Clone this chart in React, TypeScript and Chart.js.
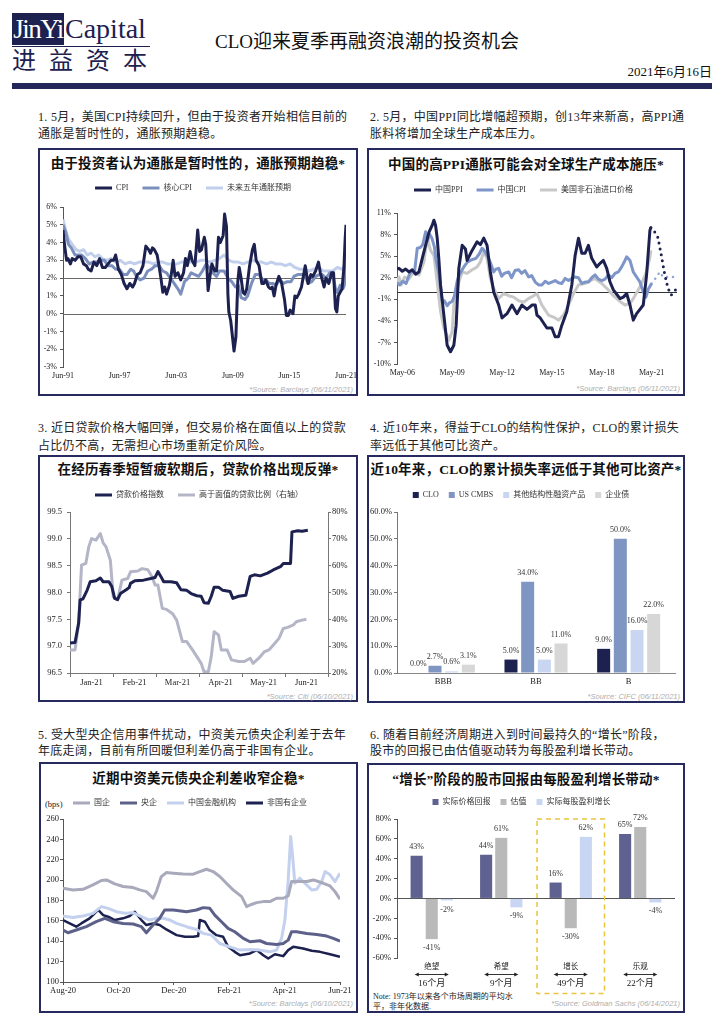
import React, { useEffect, useRef } from 'react';
import { Chart, registerables } from 'chart.js';

Chart.register(...registerables);

const SERIF = "'Liberation Serif', 'Noto Sans CJK SC', serif";
const SOURCE_FONT = "'Liberation Sans', 'Noto Sans CJK SC', sans-serif";
const NAVY = '#1d2150';
const FRAME = '#262a5e';

Chart.defaults.font.family = SERIF;
Chart.defaults.color = '#222';

// ---------------- Chart 1: US CPI ----------------
const c1TickValues = [1991.42, 1997.42, 2003.42, 2009.42, 2015.42, 2021.42];
const c1TickLabels = ['Jun-91', 'Jun-97', 'Jun-03', 'Jun-09', 'Jun-15', 'Jun-21'];
const usCpi = [
  [1991.42, 4.7], [1991.6, 3.8], [1991.8, 3.0], [1991.95, 3.1], [1992.2, 2.8], [1992.4, 3.1], [1992.7, 3.0],
  [1993.0, 3.2], [1993.3, 3.2], [1993.6, 2.8], [1993.9, 2.7], [1994.1, 2.5], [1994.4, 2.4], [1994.7, 2.9],
  [1995.0, 2.7], [1995.3, 3.1], [1995.6, 2.6], [1995.9, 2.6], [1996.2, 2.8], [1996.5, 3.0], [1996.8, 3.0],
  [1997.0, 3.3], [1997.3, 2.5], [1997.6, 2.2], [1997.9, 1.7], [1998.2, 1.4], [1998.5, 1.7], [1998.8, 1.5],
  [1999.0, 1.7], [1999.3, 2.2], [1999.6, 2.3], [1999.9, 2.7], [2000.2, 3.8], [2000.5, 3.6], [2000.7, 3.4],
  [2000.9, 3.7], [2001.1, 3.6], [2001.4, 3.3], [2001.6, 2.7], [2001.8, 2.0], [2002.0, 1.2], [2002.2, 1.5],
  [2002.4, 1.1], [2002.7, 1.6], [2002.9, 2.2], [2003.1, 3.0], [2003.3, 2.1], [2003.6, 2.3], [2003.9, 1.9],
  [2004.2, 2.3], [2004.4, 3.1], [2004.6, 2.7], [2004.9, 3.5], [2005.1, 3.0], [2005.4, 2.7], [2005.7, 4.7],
  [2005.9, 3.5], [2006.1, 3.6], [2006.4, 4.3], [2006.55, 3.9], [2006.8, 1.3], [2007.0, 2.1], [2007.2, 2.8],
  [2007.5, 2.4], [2007.7, 2.4], [2007.9, 4.3], [2008.1, 4.0], [2008.4, 4.4], [2008.55, 5.6], [2008.75, 4.9],
  [2008.9, 1.1], [2009.0, 0.1], [2009.2, -0.4], [2009.55, -2.1], [2009.75, -1.3], [2009.95, 1.8], [2010.1, 2.6],
  [2010.3, 2.0], [2010.5, 1.2], [2010.7, 1.1], [2010.9, 1.4], [2011.2, 2.7], [2011.5, 3.6], [2011.7, 3.9],
  [2011.9, 3.0], [2012.2, 2.7], [2012.5, 1.7], [2012.7, 1.7], [2012.9, 1.9], [2013.2, 1.5], [2013.4, 1.4],
  [2013.6, 1.5], [2013.8, 1.0], [2014.0, 1.6], [2014.3, 2.1], [2014.6, 1.7], [2014.9, 0.8], [2015.1, -0.1],
  [2015.3, -0.1], [2015.5, 0.2], [2015.8, 0.0], [2016.0, 1.0], [2016.2, 0.9], [2016.4, 1.1], [2016.7, 1.5],
  [2016.9, 2.1], [2017.1, 2.7], [2017.4, 1.7], [2017.7, 2.2], [2017.9, 2.1], [2018.2, 2.4], [2018.5, 2.9],
  [2018.7, 2.3], [2018.9, 1.9], [2019.1, 1.5], [2019.3, 2.0], [2019.6, 1.7], [2019.9, 2.3], [2020.1, 2.3],
  [2020.3, 0.3], [2020.45, 0.1], [2020.6, 1.0], [2020.8, 1.2], [2021.0, 1.4], [2021.2, 2.6], [2021.33, 4.2],
  [2021.42, 5.0],
];
const usCoreCpi = [
  [1991.42, 5.0], [1991.7, 4.6], [1992.0, 3.9], [1992.3, 3.7], [1992.7, 3.3], [1993.0, 3.3], [1993.4, 3.3],
  [1993.8, 3.1], [1994.2, 2.8], [1994.6, 2.9], [1995.0, 2.9], [1995.4, 3.0], [1995.8, 3.0], [1996.2, 2.7],
  [1996.6, 2.7], [1997.0, 2.5], [1997.4, 2.5], [1997.8, 2.2], [1998.2, 2.2], [1998.6, 2.5], [1998.9, 2.4],
  [1999.2, 2.1], [1999.6, 1.9], [2000.0, 2.0], [2000.4, 2.4], [2000.8, 2.5], [2001.2, 2.7], [2001.6, 2.7],
  [2002.0, 2.4], [2002.4, 2.3], [2002.8, 2.0], [2003.2, 1.7], [2003.6, 1.4], [2003.9, 1.1], [2004.3, 1.8],
  [2004.7, 2.0], [2005.0, 2.3], [2005.4, 2.2], [2005.8, 2.1], [2006.2, 2.4], [2006.6, 2.8], [2006.9, 2.6],
  [2007.3, 2.3], [2007.7, 2.1], [2008.0, 2.4], [2008.5, 2.4], [2008.9, 2.0], [2009.3, 1.8], [2009.7, 1.5],
  [2010.0, 1.6], [2010.3, 0.9], [2010.7, 0.8], [2011.0, 1.0], [2011.4, 1.7], [2011.8, 2.2], [2012.2, 2.2],
  [2012.6, 1.9], [2012.9, 1.9], [2013.3, 1.7], [2013.7, 1.7], [2014.0, 1.6], [2014.4, 1.9], [2014.8, 1.7],
  [2015.2, 1.8], [2015.6, 1.8], [2015.9, 2.1], [2016.3, 2.2], [2016.7, 2.2], [2017.0, 2.2], [2017.4, 1.7],
  [2017.8, 1.8], [2018.2, 2.1], [2018.6, 2.2], [2018.9, 2.2], [2019.3, 2.0], [2019.7, 2.3], [2020.0, 2.3],
  [2020.3, 1.4], [2020.5, 1.2], [2020.8, 1.6], [2021.1, 1.4], [2021.25, 1.6], [2021.42, 3.8],
];
const usInflExp5y = [
  [1991.42, 5.3], [1991.7, 4.7], [1992.0, 4.2], [1992.4, 3.9], [1992.8, 3.6], [1993.2, 3.5], [1993.6, 3.6],
  [1994.0, 3.3], [1994.4, 3.4], [1994.8, 3.2], [1995.2, 3.3], [1995.6, 3.1], [1996.0, 3.0], [1996.5, 3.1],
  [1997.0, 2.9], [1997.5, 3.0], [1998.0, 2.8], [1998.5, 2.9], [1999.0, 2.8], [1999.5, 2.9], [2000.0, 2.9],
  [2000.5, 2.9], [2001.0, 2.8], [2001.5, 2.9], [2002.0, 2.9], [2002.5, 2.8], [2003.0, 2.8], [2003.5, 2.8],
  [2004.0, 2.9], [2004.5, 2.9], [2005.0, 2.9], [2005.5, 2.9], [2006.0, 3.0], [2006.5, 3.0], [2007.0, 2.9],
  [2007.5, 3.0], [2008.0, 3.1], [2008.5, 3.3], [2009.0, 3.0], [2009.5, 2.9], [2010.0, 2.9], [2010.5, 2.8],
  [2011.0, 2.9], [2011.5, 3.0], [2012.0, 2.9], [2012.5, 2.9], [2013.0, 2.8], [2013.5, 2.9], [2014.0, 2.8],
  [2014.5, 2.8], [2015.0, 2.7], [2015.5, 2.8], [2016.0, 2.6], [2016.5, 2.5], [2017.0, 2.5], [2017.5, 2.4],
  [2018.0, 2.5], [2018.5, 2.6], [2019.0, 2.4], [2019.5, 2.4], [2020.0, 2.4], [2020.5, 2.6], [2021.0, 2.5],
  [2021.42, 2.8],
];

// ---------------- Chart 2: China PPI ----------------
const c2TickValues = [2006.37, 2009.37, 2012.37, 2015.37, 2018.37, 2021.37];
const c2TickLabels = ['May-06', 'May-09', 'May-12', 'May-15', 'May-18', 'May-21'];
const cnPpi = [
  [2006.05, 3.2], [2006.17, 3.3], [2006.37, 2.9], [2006.57, 3.2], [2006.77, 2.8], [2006.97, 3.1], [2007.17, 2.5],
  [2007.37, 2.8], [2007.57, 4.7], [2007.77, 6.5], [2007.97, 8.3], [2008.17, 9.3], [2008.27, 10.0], [2008.37, 9.3],
  [2008.47, 7.5], [2008.57, 4.5], [2008.67, 1.0], [2008.87, -3.2], [2009.07, -7.4], [2009.27, -8.3], [2009.47, -7.4],
  [2009.61, -4.6], [2009.77, 3.3], [2009.97, 6.5], [2010.17, 6.0], [2010.27, 4.4], [2010.57, 5.8], [2010.87, 7.0],
  [2011.07, 6.6], [2011.27, 7.5], [2011.47, 6.5], [2011.67, 2.8], [2011.87, 0.0], [2012.17, -1.8], [2012.37, -3.6],
  [2012.67, -3.0], [2012.97, -1.8], [2013.27, -3.0], [2013.57, -1.8], [2013.87, -2.4], [2014.17, -1.8], [2014.37, -1.8],
  [2014.47, -3.2], [2014.67, -3.6], [2015.07, -5.0], [2015.37, -5.0], [2015.57, -6.2], [2015.77, -6.2], [2015.97, -4.6],
  [2016.27, -2.7], [2016.57, 1.0], [2016.77, 5.1], [2016.97, 7.5], [2017.17, 5.4], [2017.37, 5.4], [2017.57, 6.5],
  [2017.77, 4.7], [2018.07, 3.5], [2018.27, 4.0], [2018.47, 4.4], [2018.67, 3.3], [2018.87, 1.4], [2019.07, 0.3],
  [2019.27, -0.3], [2019.47, -0.9], [2019.67, -0.7], [2019.87, -0.2], [2020.07, -1.8], [2020.27, -3.9], [2020.47, -3.0],
  [2020.67, -2.4], [2020.87, -1.8], [2021.07, 2.4], [2021.27, 8.6], [2021.33, 9.0],
];
const cnCpi = [
  [2006.05, 1.3], [2006.2, 1.0], [2006.4, 1.5], [2006.6, 1.2], [2006.8, 2.5], [2006.97, 3.0], [2007.1, 2.7],
  [2007.27, 6.1], [2007.45, 6.2], [2007.6, 6.6], [2007.77, 8.4], [2007.9, 7.2], [2008.0, 8.1], [2008.15, 7.5],
  [2008.3, 6.3], [2008.4, 4.5], [2008.57, 2.5], [2008.77, -1.3], [2008.9, -1.2], [2009.07, -1.9], [2009.2, -1.5],
  [2009.37, -1.3], [2009.5, -0.6], [2009.67, 1.5], [2009.8, 2.4], [2010.07, 3.5], [2010.3, 4.2], [2010.55, 4.5],
  [2010.8, 4.7], [2011.0, 5.3], [2011.17, 6.1], [2011.3, 5.8], [2011.5, 5.0], [2011.67, 4.1], [2011.87, 2.8],
  [2012.0, 3.2], [2012.17, 3.3], [2012.35, 2.2], [2012.5, 2.6], [2012.77, 2.8], [2012.95, 2.0], [2013.15, 3.0],
  [2013.37, 3.1], [2013.55, 2.6], [2013.75, 3.0], [2013.97, 2.1], [2014.15, 2.3], [2014.37, 1.4], [2014.57, 1.0],
  [2014.77, 1.0], [2014.97, 1.5], [2015.17, 1.2], [2015.37, 1.4], [2015.57, 1.6], [2015.77, 1.3], [2015.97, 1.2],
  [2016.17, 1.9], [2016.37, 1.6], [2016.57, 1.9], [2016.77, 2.1], [2016.97, 2.0], [2017.17, 1.2], [2017.37, 1.4],
  [2017.57, 1.4], [2017.77, 2.0], [2017.97, 2.4], [2018.17, 1.8], [2018.37, 1.6], [2018.57, 1.8], [2018.77, 2.4],
  [2018.97, 2.0], [2019.17, 2.6], [2019.37, 2.8], [2019.57, 3.5], [2019.77, 4.4], [2019.87, 4.9], [2020.07, 4.4],
  [2020.27, 2.8], [2020.47, 2.1], [2020.67, 1.4], [2020.87, 0.0], [2021.03, -0.7], [2021.17, 0.4], [2021.37, 1.2],
];
const usNonOilImport = [
  [2006.05, 1.4], [2006.17, 2.1], [2006.3, 1.0], [2006.5, 2.1], [2006.75, 1.8], [2007.07, 2.8], [2007.37, 2.4],
  [2007.67, 4.2], [2007.87, 7.5], [2008.07, 5.8], [2008.27, 5.1], [2008.47, 1.4], [2008.67, -2.7], [2008.87, -5.0],
  [2009.17, -6.7], [2009.37, -5.5], [2009.47, -1.8], [2009.77, 1.4], [2009.97, 2.8], [2010.27, 2.6], [2010.57, 3.1],
  [2010.87, 3.5], [2011.07, 4.2], [2011.27, 5.6], [2011.47, 4.7], [2011.67, 1.9], [2011.87, 0.5], [2012.17, -0.9],
  [2012.47, -0.2], [2012.77, -0.5], [2013.07, -0.7], [2013.37, -1.2], [2013.67, -1.4], [2013.97, -0.9], [2014.27, -0.5],
  [2014.47, -0.2], [2014.77, -1.8], [2015.17, -3.2], [2015.57, -3.6], [2015.77, -3.9], [2016.07, -3.2], [2016.37, -1.8],
  [2016.67, -0.2], [2016.97, 1.0], [2017.37, 1.2], [2017.77, 1.7], [2017.97, 1.9], [2018.37, 1.2], [2018.77, 0.3],
  [2019.07, -0.5], [2019.47, -1.3], [2019.77, -1.8], [2020.07, -1.6], [2020.27, -0.9], [2020.57, 0.3], [2020.77, 1.2],
  [2021.07, 2.8], [2021.27, 4.9], [2021.33, 5.8],
];
const cnPpiForecast = [
  [2021.33, 9.0], [2021.55, 8.4], [2021.75, 7.6], [2021.95, 5.2], [2022.15, 2.6], [2022.35, 0.6], [2022.55, -0.4], [2022.85, 0.4],
];
const cnCpiForecast = [
  [2021.37, 1.2], [2021.6, 1.9], [2021.87, 2.8], [2022.07, 2.1], [2022.37, 2.1], [2022.67, 2.1],
];

// ---------------- Chart 3: loan prices (x = days since 1 Jan 2021) ----------------
const c3Months = ['Jan-21', 'Feb-21', 'Mar-21', 'Apr-21', 'May-21', 'Jun-21'];
const loanPriceIndex = [
  [0, 97.06], [3.5, 97.07], [6, 97.43], [7, 97.86], [9, 97.88], [12, 98.05], [14, 98.2], [18, 98.22], [21, 98.27],
  [23, 98.2], [27, 98.2], [29, 98.11], [31, 97.89], [33, 97.87], [35, 97.98], [39, 98.05], [41, 98.09], [42, 98.17],
  [45, 98.22], [51, 98.23], [56, 98.26], [59, 98.28], [61, 98.39], [63, 98.3], [65, 98.2], [70, 98.2], [74, 98.18],
  [77, 98.05], [81, 98.04], [84, 97.98], [88, 97.94], [91, 97.93], [93, 97.81], [96, 97.8], [98, 97.93], [100, 98.1],
  [103, 98.1], [106, 98.04], [111, 98.02], [113, 97.89], [117, 97.93], [122, 97.95], [125, 98.3], [128, 98.33],
  [132, 98.31], [137, 98.36], [141, 98.42], [146, 98.48], [148, 98.54], [153, 98.54], [154, 99.13], [158, 99.15],
  [161, 99.14], [165, 99.16],
];
const loansAboveParShare = [
  [0, 28.6], [3.5, 28.6], [6, 38.5], [8, 60.2], [11, 60.9], [13, 67], [15, 70.1], [18, 69.5], [21, 72], [23, 68.5],
  [25, 67], [28, 62], [30, 48.4], [33, 47.2], [36, 54.6], [40, 55.2], [42, 57.7], [47, 58], [50, 58.9], [54, 58.5],
  [57, 55.8], [59, 52.8], [61, 52.8], [64, 44.1], [67, 43.7], [71, 42.2], [74, 39.7], [78, 31.7], [81, 31.7],
  [85, 28.6], [88, 26.1], [91, 23.6], [93, 20.5], [96, 20.5], [98, 26.1], [100, 35.4], [103, 34.2], [105, 28.6],
  [109, 28.6], [112, 24.9], [117, 24.3], [121, 24.3], [125, 25.5], [127, 23.6], [131, 25.5], [135, 28], [138, 28.6],
  [142, 31], [145, 32.9], [148, 36.6], [151, 37], [155, 37.9], [157, 39.1], [161, 39.7], [164, 40],
];

// ---------------- Chart 4: cumulative loss rates ----------------
const c4Ratings = ['BBB', 'BB', 'B'];
const lossClo = [0.0, 5.0, 9.0];
const lossCmbs = [2.7, 34.0, 50.0];
const lossOtherSf = [0.6, 5.0, 16.0];
const lossCorp = [3.1, 11.0, 22.0];

// ---------------- Chart 5: USD bond spreads (x = months since Aug-20) ----------------
const c5TickValues = [0, 2, 4, 6, 8, 10];
const c5TickLabels = ['Aug-20', 'Oct-20', 'Dec-20', 'Feb-21', 'Apr-21', 'Jun-21'];
const soeSpread = [
  [0, 192], [0.36, 190.4], [0.72, 191], [1.08, 195.3], [1.39, 199.6], [1.57, 200.2], [1.87, 196.3], [2.17, 193.7],
  [2.53, 192.7], [2.77, 190.4], [3.01, 188.7], [3.25, 182.2], [3.37, 188.7], [3.55, 203.5], [3.73, 207.4],
  [3.98, 206.8], [4.34, 206.1], [4.7, 205.8], [4.94, 208.4], [5.18, 210.7], [5.42, 208.4], [5.66, 203.5],
  [5.9, 196.9], [6.14, 190.4], [6.45, 183.8], [6.63, 174], [6.75, 175.6], [6.99, 177.9], [7.23, 178.9],
  [7.47, 178.9], [7.71, 182.2], [7.95, 182.2], [8.13, 184.5], [8.25, 198.6], [8.43, 198.6], [8.8, 198.6],
  [9.04, 200.2], [9.4, 196.9], [9.64, 194.3], [9.82, 188.7], [10, 181.2],
];
const centralSoeSpread = [
  [0, 151], [0.18, 148.3], [0.48, 151], [0.84, 154.3], [1.2, 159.2], [1.51, 162.5], [1.81, 159.2], [2.17, 157.5],
  [2.53, 156.9], [2.83, 154.3], [3.01, 148.3], [3.25, 155.9], [3.49, 162.5], [3.67, 170.7], [3.98, 170.7],
  [4.46, 169], [4.82, 170.7], [5.06, 173], [5.3, 172.3], [5.48, 165.7], [5.72, 159.2], [5.96, 152.6], [6.2, 149.3],
  [6.51, 142.8], [6.75, 139.5], [7.11, 140.5], [7.35, 137.8], [7.71, 136.8], [7.95, 137.8], [8.13, 141.1],
  [8.25, 149.3], [8.43, 149.3], [8.8, 147.7], [9.16, 146.7], [9.52, 145.1], [9.76, 142.8], [10, 140.1],
];
const finInstSpread = [
  [0, 164.8], [0.36, 163.4], [0.72, 164.8], [1.08, 167.4], [1.39, 174], [1.63, 172.3], [1.93, 169], [2.23, 167.4],
  [2.53, 168], [2.83, 164.1], [3.13, 160.8], [3.37, 162.5], [3.61, 162.5], [3.86, 160.8], [4.1, 157.5],
  [4.46, 154.3], [4.82, 151.6], [5.06, 147.7], [5.36, 146], [5.66, 137.8], [6.02, 134.5], [6.39, 131.3],
  [6.75, 131.9], [7.11, 131.3], [7.47, 129.6], [7.71, 131.3], [7.89, 142.8], [8.01, 160.8], [8.13, 200.2],
  [8.22, 242.9], [8.29, 223.2], [8.37, 196.9], [8.55, 201.9], [8.73, 196.9], [8.98, 190.4], [9.16, 191],
  [9.34, 198.6], [9.46, 208.4], [9.64, 205.2], [9.82, 198.6], [10, 206.8],
];
const privateSpread = [
  [0, 160.8], [0.24, 157.5], [0.48, 154.3], [0.66, 157.5], [0.96, 162.5], [1.27, 170.7], [1.45, 165.7],
  [1.63, 164.1], [1.87, 160.8], [2.17, 162.5], [2.41, 164.8], [2.59, 169], [2.83, 160.8], [3.01, 155.9],
  [3.25, 157.5], [3.49, 155.9], [3.73, 151.6], [4.1, 146], [4.4, 144.4], [4.7, 144.4], [4.88, 145.1],
  [4.94, 160.8], [5.12, 159.2], [5.3, 151], [5.54, 146], [5.78, 144.4], [5.96, 134.5], [6.2, 129.6],
  [6.39, 126.3], [6.75, 128], [6.99, 131.3], [7.23, 126.3], [7.41, 123], [7.65, 127.3], [7.95, 125.4],
  [8.13, 131.3], [8.31, 134.5], [8.67, 132.9], [8.98, 130.6], [9.28, 129.6], [9.64, 127.3], [10, 124.7],
];

// ---------------- Chart 6: equity returns by cycle phase ----------------
const c6Phases = ['绝望', '希望', '增长', '乐观'];
const c6Durations = ['16个月', '9个月', '49个月', '22个月'];
const c6Highlight = '增长';
const realPriceReturn = [43, 44, 16, 65];
const valuation = [-41, 61, -30, 72];
const realEpsGrowth = [-2, -9, 62, -4];

// ---------------- helpers ----------------
const pts = (arr: number[][]) => arr.map(([x, y]) => ({ x, y }));

const lineSet = (label: string, data: number[][], color: string, extra: any = {}) => ({
  label,
  data: pts(data),
  borderColor: color,
  backgroundColor: color,
  borderWidth: 3,
  pointRadius: 0,
  pointHoverRadius: 0,
  tension: 0,
  fill: false,
  borderJoinStyle: 'round',
  ...extra,
});

const spacer = (pad: number) => ({
  display: true,
  text: '',
  position: 'top',
  weight: 100,
  padding: { top: pad, bottom: 0 },
  font: { size: 1, lineHeight: 1 },
});

const legendOpts = (pad: number, boxWidth: number, boxHeight: number, count: number) => ({
  display: true,
  position: 'top',
  labels: {
    boxWidth,
    boxHeight,
    padding: pad,
    color: '#333',
    font: { family: SERIF, size: 8 },
    generateLabels: (chart: any) =>
      chart.data.datasets.slice(0, count).map((ds: any, i: number) => ({
        text: ds.label,
        fillStyle: ds.backgroundColor,
        strokeStyle: ds.backgroundColor,
        lineWidth: 0,
        hidden: false,
        datasetIndex: i,
        fontColor: '#333',
      })),
  },
});

const fixY = (w: number) => (s: any) => {
  s.width = w;
  s.paddingTop = 0;
  s.paddingBottom = 0;
};
const fixX = (h: number) => (s: any) => {
  s.height = h;
  s.paddingLeft = 0;
  s.paddingRight = 0;
};

const refLinesPlugin = {
  id: 'refLines',
  beforeDatasetsDraw(chart: any, _a: any, opts: any) {
    if (!opts || !opts.values) return;
    const { ctx, chartArea } = chart;
    const ys = chart.scales[opts.axis || 'y'];
    ctx.save();
    ctx.strokeStyle = opts.color || '#666';
    ctx.lineWidth = 1;
    opts.values.forEach((v: number) => {
      const py = Math.round(ys.getPixelForValue(v)) + 0.5;
      ctx.beginPath();
      ctx.moveTo(chartArea.left, py);
      ctx.lineTo(chartArea.right, py);
      ctx.stroke();
    });
    ctx.restore();
  },
};

const barLabelsPlugin = {
  id: 'barLabels',
  afterDatasetsDraw(chart: any, _a: any, opts: any) {
    if (!opts || !opts.format) return;
    const { ctx } = chart;
    ctx.save();
    ctx.font = `${opts.size || 8}px ${SERIF}`;
    ctx.fillStyle = '#333';
    ctx.textAlign = 'center';
    ctx.textBaseline = 'middle';
    chart.data.datasets.forEach((ds: any, i: number) => {
      const meta = chart.getDatasetMeta(i);
      meta.data.forEach((bar: any, j: number) => {
        const v = ds.data[j];
        const y = v >= 0 ? bar.y - 9 : bar.y + 9;
        ctx.fillText(opts.format(v), bar.x, y);
      });
    });
    ctx.restore();
  },
};

const phasePlugin = {
  id: 'phaseLabels',
  afterDraw(chart: any) {
    const { ctx, chartArea } = chart;
    const xs = chart.scales.x;
    const cw = (chartArea.right - chartArea.left) / c6Phases.length;
    ctx.save();
    ctx.fillStyle = '#222';
    ctx.strokeStyle = '#333';
    ctx.textAlign = 'center';
    ctx.textBaseline = 'middle';
    c6Phases.forEach((name, i) => {
      const cx = xs.getPixelForValue(i);
      ctx.font = `7.5px ${SERIF}`;
      ctx.fillText(name, cx, chartArea.bottom + 9.5);
      const ay = Math.round(chartArea.bottom + 16) + 0.5;
      ctx.lineWidth = 1;
      ctx.beginPath();
      ctx.moveTo(cx - 16, ay);
      ctx.lineTo(cx + 16, ay);
      ctx.stroke();
      ctx.beginPath();
      ctx.moveTo(cx - 17, ay);
      ctx.lineTo(cx - 13, ay - 2);
      ctx.lineTo(cx - 13, ay + 2);
      ctx.closePath();
      ctx.fill();
      ctx.beginPath();
      ctx.moveTo(cx + 17, ay);
      ctx.lineTo(cx + 13, ay - 2);
      ctx.lineTo(cx + 13, ay + 2);
      ctx.closePath();
      ctx.fill();
      ctx.font = `9px ${SERIF}`;
      ctx.fillText(c6Durations[i], cx, chartArea.bottom + 25.5);
    });
    const hi = c6Phases.indexOf(c6Highlight);
    const hx = xs.getPixelForValue(hi);
    ctx.strokeStyle = '#ebc43c';
    ctx.lineWidth = 1.5;
    ctx.setLineDash([5, 4]);
    ctx.strokeRect(hx - cw * 0.485, chartArea.top, cw * 0.97, chartArea.bottom + 35.6 - chartArea.top);
    ctx.restore();
  },
};

const baseOpts = {
  responsive: false,
  animation: false,
  events: [],
};

// ---------------- configs ----------------
const makeConfig1 = () => ({
  type: 'line',
  data: {
    datasets: [
      lineSet('CPI', usCpi, NAVY),
      lineSet('核心CPI', usCoreCpi, '#7b8fbd'),
      lineSet('未来五年通胀预期', usInflExp5y, '#c1cfec'),
    ],
  },
  options: {
    ...baseOpts,
    layout: { padding: { left: 0, right: 16, top: 0, bottom: 1 } },
    plugins: {
      legend: legendOpts(14, 17, 3, 3),
      subtitle: spacer(4),
      tooltip: { enabled: false },
      refLines: { values: [0, 2], color: '#6a6a6a' },
    },
    scales: {
      x: {
        type: 'linear', min: 1991.42, max: 2021.42, bounds: 'data',
        afterBuildTicks: (s: any) => { s.ticks = c1TickValues.map((v) => ({ value: v })); },
        afterFit: fixX(14),
        grid: { display: false, drawTicks: false },
        border: { display: false },
        ticks: { autoSkip: false, maxRotation: 0, padding: 4, font: { size: 8 }, callback: (_v: any, i: number) => c1TickLabels[i] },
      },
      y: {
        min: -3, max: 6,
        afterFit: fixY(23),
        ticks: { stepSize: 1, padding: 3, font: { size: 8 }, callback: (v: any) => v + '%' },
        grid: { drawOnChartArea: false, tickLength: 3, color: '#555' },
        border: { display: true, color: '#555' },
      },
    },
  },
  plugins: [refLinesPlugin],
});

const makeConfig2 = () => ({
  type: 'line',
  data: {
    datasets: [
      lineSet('中国PPI', cnPpi, NAVY),
      lineSet('中国CPI', cnCpi, '#7d95c8'),
      lineSet('美国非石油进口价格', usNonOilImport, '#c8c8c8'),
      lineSet('中国PPI预测', cnPpiForecast, NAVY, { borderDash: [0, 6], borderCapStyle: 'round', borderWidth: 3 }),
      lineSet('中国CPI预测', cnCpiForecast, '#8ea5d6', { borderDash: [0, 6], borderCapStyle: 'round', borderWidth: 2.5 }),
    ],
  },
  options: {
    ...baseOpts,
    layout: { padding: { left: 0, right: 13, top: 0, bottom: 2 } },
    plugins: {
      legend: legendOpts(14, 17, 3, 3),
      subtitle: spacer(8),
      tooltip: { enabled: false },
      refLines: { values: [0], color: '#333' },
    },
    scales: {
      x: {
        type: 'linear', min: 2006.05, max: 2022.9, bounds: 'data',
        afterBuildTicks: (s: any) => { s.ticks = c2TickValues.map((v) => ({ value: v })); },
        afterFit: fixX(16),
        grid: { display: false, drawTicks: false },
        border: { display: false },
        ticks: { autoSkip: false, maxRotation: 0, padding: 4, font: { size: 8 }, callback: (_v: any, i: number) => c2TickLabels[i] },
      },
      y: {
        min: -10, max: 11,
        afterFit: fixY(27),
        ticks: { stepSize: 3, padding: 3, font: { size: 8 }, callback: (v: any) => v + '%' },
        grid: { drawOnChartArea: false, tickLength: 3, color: '#555' },
        border: { display: true, color: '#555' },
      },
    },
  },
  plugins: [refLinesPlugin],
});

const makeConfig3 = () => ({
  type: 'line',
  data: {
    datasets: [
      lineSet('贷款价格指数', loanPriceIndex, NAVY, { xAxisID: 'x', yAxisID: 'y' }),
      lineSet('高于面值的贷款比例（右轴）', loansAboveParShare, '#b4b6c7', { xAxisID: 'x', yAxisID: 'y2' }),
    ],
  },
  options: {
    ...baseOpts,
    layout: { padding: { left: 0, right: 0, top: 0, bottom: 7 } },
    plugins: {
      legend: legendOpts(14, 17, 3, 2),
      subtitle: spacer(2),
      tooltip: { enabled: false },
    },
    scales: {
      x: { type: 'linear', display: false, min: 0, max: 179, bounds: 'data' },
      xm: {
        type: 'category', labels: c3Months, position: 'bottom', offset: true,
        afterFit: fixX(20),
        grid: { offset: true, drawOnChartArea: false, tickLength: 4, color: '#777' },
        border: { display: true, color: '#777' },
        ticks: { padding: 1, autoSkip: false, maxRotation: 0, font: { size: 8.5 } },
      },
      y: {
        position: 'left', min: 96.5, max: 99.5,
        afterFit: fixY(30),
        ticks: { stepSize: 0.5, padding: 5, font: { size: 8.5 }, callback: (v: any) => Number(v).toFixed(1) },
        grid: { drawOnChartArea: false, tickLength: 3, color: '#777' },
        border: { display: true, color: '#777' },
      },
      y2: {
        position: 'right', min: 20, max: 80,
        afterFit: fixY(30),
        ticks: { stepSize: 10, padding: 1, font: { size: 8.5 }, callback: (v: any) => v + '%' },
        grid: { drawOnChartArea: false, tickLength: 3, color: '#777' },
        border: { display: true, color: '#777' },
      },
    },
  },
});

const makeConfig4 = () => ({
  type: 'bar',
  data: {
    labels: c4Ratings,
    datasets: [
      { label: 'CLO', data: lossClo, backgroundColor: NAVY },
      { label: 'US CMBS', data: lossCmbs, backgroundColor: '#7f95c2' },
      { label: '其他结构性融资产品', data: lossOtherSf, backgroundColor: '#c8d6f2' },
      { label: '企业债', data: lossCorp, backgroundColor: '#d7d7d7' },
    ].map((d) => ({ ...d, categoryPercentage: 0.72, barPercentage: 0.78, borderWidth: 0 })),
  },
  options: {
    ...baseOpts,
    layout: { padding: { left: 0, right: 12, top: 0, bottom: 3 } },
    plugins: {
      legend: legendOpts(10, 6, 6, 4),
      subtitle: spacer(2),
      tooltip: { enabled: false },
      barLabels: { format: (v: number) => v.toFixed(1) + '%', size: 8 },
    },
    scales: {
      x: {
        afterFit: fixX(18),
        grid: { display: false, drawTicks: false },
        border: { display: true, color: '#888' },
        ticks: { padding: 4, font: { size: 8.5 } },
      },
      y: {
        min: 0, max: 60,
        afterFit: fixY(30),
        ticks: { stepSize: 10, padding: 2, font: { size: 8.5 }, callback: (v: any) => Number(v).toFixed(1) + '%' },
        grid: { drawOnChartArea: false, tickLength: 3, color: '#777' },
        border: { display: true, color: '#777' },
      },
    },
  },
  plugins: [barLabelsPlugin],
});

const makeConfig5 = () => ({
  type: 'line',
  data: {
    datasets: [
      lineSet('国企', soeSpread, '#a9a9bc'),
      lineSet('央企', centralSoeSpread, '#5d6089'),
      lineSet('中国金融机构', finInstSpread, '#c3d1ee'),
      lineSet('非国有企业', privateSpread, NAVY, { borderWidth: 2.5 }),
    ],
  },
  options: {
    ...baseOpts,
    layout: { padding: { left: 0, right: 20, top: 0, bottom: 2 } },
    plugins: {
      legend: legendOpts(10, 17, 3, 4),
      subtitle: spacer(1),
      tooltip: { enabled: false },
    },
    scales: {
      x: {
        type: 'linear', min: 0, max: 10, bounds: 'data',
        afterBuildTicks: (s: any) => { s.ticks = c5TickValues.map((v) => ({ value: v })); },
        afterFit: fixX(16),
        grid: { drawOnChartArea: false, tickLength: 3, color: '#555' },
        border: { display: true, color: '#555' },
        ticks: { autoSkip: false, maxRotation: 0, padding: 1, font: { size: 8.5 }, callback: (_v: any, i: number) => c5TickLabels[i] },
      },
      y: {
        min: 100, max: 260,
        afterFit: fixY(23),
        ticks: { stepSize: 20, padding: 1, font: { size: 8.5 } },
        grid: { drawOnChartArea: false, tickLength: 3, color: '#555' },
        border: { display: true, color: '#555' },
      },
    },
  },
});

const makeConfig6 = () => ({
  type: 'bar',
  data: {
    labels: c6Phases,
    datasets: [
      { label: '实际价格回报', data: realPriceReturn, backgroundColor: '#5f6291' },
      { label: '估值', data: valuation, backgroundColor: '#b9b9b9' },
      { label: '实际每股盈利增长', data: realEpsGrowth, backgroundColor: '#c8d6f3' },
    ].map((d) => ({ ...d, categoryPercentage: 0.653, barPercentage: 0.8, borderWidth: 0 })),
  },
  options: {
    ...baseOpts,
    layout: { padding: { left: 0, right: 13, top: 0, bottom: 2 } },
    plugins: {
      legend: legendOpts(10, 6, 6, 3),
      subtitle: spacer(2),
      tooltip: { enabled: false },
      barLabels: { format: (v: number) => v + '%', size: 8 },
      refLines: { values: [0], color: '#555' },
    },
    scales: {
      x: {
        afterFit: fixX(36),
        grid: { display: false, drawTicks: false },
        border: { display: false },
        ticks: { display: false },
      },
      y: {
        min: -60, max: 80,
        afterFit: fixY(29),
        ticks: { stepSize: 20, padding: 3, font: { size: 8.5 }, callback: (v: any) => v + '%' },
        grid: { drawOnChartArea: false, tickLength: 3, color: '#555' },
        border: { display: true, color: '#555' },
      },
    },
  },
  plugins: [refLinesPlugin, barLabelsPlugin, phasePlugin],
});

// ---------------- components ----------------
function ChartCanvas({ make, left, top, width, height }: any) {
  const ref = useRef<HTMLCanvasElement>(null);
  useEffect(() => {
    const chart = new Chart(ref.current as HTMLCanvasElement, make());
    return () => chart.destroy();
  }, []);
  return (
    <canvas
      ref={ref}
      width={width}
      height={height}
      style={{ position: 'absolute', left, top, width, height }}
    />
  );
}

function Box({ left, top, width, height, title, titleTop, source, sourceTop, children }: any) {
  return (
    <div
      style={{
        position: 'absolute', left, top, width, height,
        border: `2px solid ${FRAME}`, boxSizing: 'border-box',
      }}
    >
      <div
        style={{
          position: 'absolute', left: -10, right: -10, top: titleTop, textAlign: 'center',
          fontWeight: 700, fontSize: 13.5, lineHeight: '16px', whiteSpace: 'nowrap', color: '#111',
          letterSpacing: 0.2,
        }}
      >
        {title}
      </div>
      <div
        style={{
          position: 'absolute', right: 3, top: sourceTop, fontStyle: 'italic', fontSize: 7.5,
          lineHeight: '10px', color: '#adadad', fontFamily: SOURCE_FONT, whiteSpace: 'nowrap',
        }}
      >
        {source}
      </div>
      {children}
    </div>
  );
}

function Para({ left, top, lines, lh }: any) {
  return (
    <div style={{ position: 'absolute', left, top, fontSize: 12, lineHeight: `${lh}px`, color: '#222', letterSpacing: 0.3 }}>
      {lines.map((l: string, i: number) => (
        <div key={i} style={{ whiteSpace: 'nowrap' }}>{l}</div>
      ))}
    </div>
  );
}

export default function App() {
  return (
    <div
      style={{
        position: 'absolute', left: 0, top: 0, width: 724, height: 1024, background: '#fff',
        overflow: 'hidden', fontFamily: SERIF, color: '#222',
      }}
    >
      {/* header */}
      <div
        style={{
          position: 'absolute', left: 12, top: 13, width: 52, height: 32, background: NAVY, color: '#fff',
          fontSize: 27, lineHeight: '32px', letterSpacing: -1.5, textAlign: 'center', whiteSpace: 'nowrap',
        }}
      >
        JinYi
      </div>
      <div style={{ position: 'absolute', left: 65, top: 13, color: NAVY, fontSize: 28, lineHeight: '32px', whiteSpace: 'nowrap' }}>
        Capital
      </div>
      <div style={{ position: 'absolute', left: 12, top: 46, width: 138, height: 1, background: NAVY }} />
      <div style={{ position: 'absolute', left: 12, top: 48, color: NAVY, fontSize: 24, lineHeight: '26px', letterSpacing: 13, whiteSpace: 'nowrap' }}>
        进益资本
      </div>
      <div style={{ position: 'absolute', left: 215, top: 31, fontSize: 19, lineHeight: '22px', color: '#111', whiteSpace: 'nowrap' }}>
        CLO迎来夏季再融资浪潮的投资机会
      </div>
      <div style={{ position: 'absolute', right: 12, top: 64, fontSize: 13, lineHeight: '16px', color: '#111', whiteSpace: 'nowrap' }}>
        2021年6月16日
      </div>
      <div style={{ position: 'absolute', left: 12, top: 83, width: 700, height: 6, background: '#232759' }} />

      {/* paragraphs */}
      <Para left={38} top={109} lh={17} lines={['1. 5月，美国CPI持续回升，但由于投资者开始相信目前的', '通胀是暂时性的，通胀预期趋稳。']} />
      <Para left={370} top={109} lh={17} lines={['2. 5月，中国PPI同比增幅超预期，创13年来新高，高PPI通', '胀料将增加全球生产成本压力。']} />
      <Para left={38} top={419} lh={18} lines={['3. 近日贷款价格大幅回弹，但交易价格在面值以上的贷款', '占比仍不高，无需担心市场重新定价风险。']} />
      <Para left={370} top={419} lh={18} lines={['4. 近10年来，得益于CLO的结构性保护，CLO的累计损失', '率远低于其他可比资产。']} />
      <Para left={38} top={727} lh={16} lines={['5. 受大型央企信用事件扰动，中资美元债央企利差于去年', '年底走阔，目前有所回暖但利差仍高于非国有企业。']} />
      <Para left={370} top={727} lh={16} lines={['6. 随着目前经济周期进入到时间最持久的“增长”阶段，', '股市的回报已由估值驱动转为每股盈利增长带动。']} />

      {/* boxes */}
      <Box left={38} top={148} width={320} height={248} titleTop={6} sourceTop={235}
        title="由于投资者认为通胀是暂时性的，通胀预期趋稳*" source="*Source: Barclays (06/11/2021)" />
      <Box left={367} top={148} width={318} height={248} titleTop={7} sourceTop={234}
        title="中国的高PPI通胀可能会对全球生产成本施压*" source="*Source: Barclays (06/11/2021)" />
      <Box left={38} top={455} width={320} height={247} titleTop={5} sourceTop={235}
        title="在经历春季短暂疲软期后，贷款价格出现反弹*" source="*Source: Citi (06/10/2021)" />
      <Box left={367} top={455} width={318} height={248} titleTop={5} sourceTop={235}
        title="近10年来，CLO的累计损失率远低于其他可比资产*" source="*Source: CIFC (06/11/2021)" />
      <Box left={39} top={762} width={319} height={251} titleTop={7} sourceTop={235}
        title="近期中资美元债央企利差收窄企稳*" source="*Source: Barclays (06/10/2021)" />
      <Box left={367} top={763} width={318} height={250} titleTop={7} sourceTop={234}
        title="“增长”阶段的股市回报由每股盈利增长带动*" source="*Source: Goldman Sachs (06/14/2021)">
        <div style={{ position: 'absolute', left: 4, top: 227, fontSize: 8, lineHeight: '9.5px', color: '#222', whiteSpace: 'nowrap' }}>
          <div>Note: 1973年以来各个市场周期的平均水</div>
          <div>平，非年化数据.</div>
        </div>
      </Box>
      <div style={{ position: 'absolute', left: 45, top: 798, fontSize: 8.5, lineHeight: '12px', color: '#222' }}>(bps)</div>

      {/* charts */}
      <ChartCanvas make={makeConfig1} left={40} top={170} width={322} height={212} />
      <ChartCanvas make={makeConfig2} left={370} top={172} width={320} height={210} />
      <ChartCanvas make={makeConfig3} left={40} top={477} width={318} height={223} />
      <ChartCanvas make={makeConfig4} left={367} top={481} width={320} height={213} />
      <ChartCanvas make={makeConfig5} left={40} top={789} width={320} height={211} />
      <ChartCanvas make={makeConfig6} left={368} top={788} width={320} height={208} />
    </div>
  );
}
